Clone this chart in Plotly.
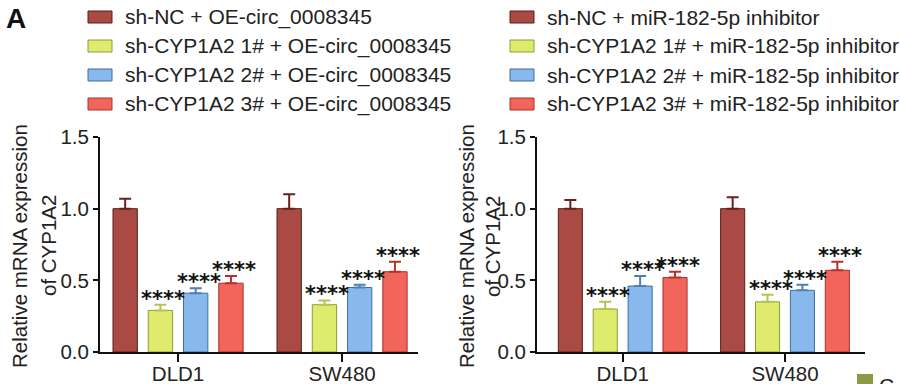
import plotly.graph_objects as go

# ---- data ----
cells = ["DLD1", "SW480"]
groups_left = ["sh-NC + OE-circ_0008345", "sh-CYP1A2 1# + OE-circ_0008345",
               "sh-CYP1A2 2# + OE-circ_0008345", "sh-CYP1A2 3# + OE-circ_0008345"]
groups_right = ["sh-NC + miR-182-5p inhibitor", "sh-CYP1A2 1# + miR-182-5p inhibitor",
                "sh-CYP1A2 2# + miR-182-5p inhibitor", "sh-CYP1A2 3# + miR-182-5p inhibitor"]
left_means = [[1.00, 1.00], [0.29, 0.33], [0.41, 0.45], [0.48, 0.56]]
left_errs = [[0.07, 0.10], [0.04, 0.03], [0.035, 0.02], [0.05, 0.07]]
right_means = [[1.00, 1.00], [0.30, 0.35], [0.46, 0.43], [0.52, 0.57]]
right_errs = [[0.06, 0.08], [0.05, 0.05], [0.07, 0.04], [0.04, 0.06]]
sig_left = [["", ""], ["****", "****"], ["****", "****"], ["****", "****"]]
sig_right = [["", ""], ["****", "****"], ["****", "****"], ["****", "****"]]
y_ticks = [0.0, 0.5, 1.0, 1.5]
y_title = ["Relative mRNA expression", "of CYP1A2"]

colors = ["#A94A44", "#DFEB6C", "#88B8EC", "#F2655B"]
edge = ["#5a1d1a", "#8f9a3a", "#3f6f9f", "#a8302a"]
errc = ["#6b201c", "#b7c250", "#4f7fb5", "#b8302a"]

W, H = 900, 384
def px(x): return x / W
def py(y): return 1 - y / H

BARGAP = 0.14
FONT = "Liberation Sans, Arial, sans-serif"

fig = go.Figure()
panels = [
    dict(xa="x", ya="y", means=left_means, errs=left_errs, sig=sig_left, names=groups_left),
    dict(xa="x2", ya="y2", means=right_means, errs=right_errs, sig=sig_right, names=groups_right),
]
xpos = [0, 1]
for p in panels:
    for i in range(4):
        fig.add_trace(go.Bar(
            x=xpos, y=p["means"][i], name=p["names"][i],
            xaxis=p["xa"], yaxis=p["ya"],
            marker=dict(color=colors[i], line=dict(color=edge[i], width=1)),
            error_y=dict(type="data", array=p["errs"][i], arrayminus=[0, 0],
                         symmetric=False, color=errc[i], thickness=2, width=6),
            showlegend=False, offsetgroup=str(i),
        ))
    slot = (1 - BARGAP) / 4
    for i in range(4):
        for j in range(2):
            if p["sig"][i][j]:
                fig.add_annotation(
                    x=xpos[j] + (i - 1.5) * slot, y=p["means"][i][j] + p["errs"][i][j],
                    xref=p["xa"], yref=p["ya"], text="<b>" + p["sig"][i][j] + "</b>",
                    showarrow=False, xanchor="center", yanchor="bottom", xshift=3, yshift=-8,
                    font=dict(family="DejaVu Sans", size=21, color="#111"))

axis_common = dict(showline=True, linecolor="#111", linewidth=2, ticks="outside",
                   tickcolor="#111", tickwidth=2, showgrid=False, zeroline=False,
                   automargin=False,
                   tickfont=dict(family=FONT, size=20.5, color="#222"))
yb, yt = py(352), py(137)
fig.update_layout(
    width=W, height=H, margin=dict(l=0, r=0, t=0, b=0, autoexpand=False),
    paper_bgcolor="white", plot_bgcolor="white",
    barmode="group", bargap=BARGAP, bargroupgap=0.31,
    xaxis=dict(domain=[px(100), px(418)], range=[-0.476, 1.463], tickvals=xpos,
               ticktext=cells, ticklen=8, ticklabelstandoff=-6, anchor="y", **axis_common),
    yaxis=dict(domain=[yb, yt], range=[0, 1.5], tickvals=y_ticks, tickformat=".1f",
               ticklen=5, anchor="x", **axis_common),
    xaxis2=dict(domain=[px(537), px(865)], range=[-0.528, 1.493], tickvals=xpos,
                ticktext=cells, ticklen=8, ticklabelstandoff=-6, anchor="y2", **axis_common),
    yaxis2=dict(domain=[yb, yt], range=[0, 1.5], tickvals=y_ticks, tickformat=".1f",
                ticklen=5, anchor="x2", **axis_common),
)

# y-axis titles (two lines each)
for xc in [(19, 48), (466, 492)]:
    for k, line in enumerate(y_title):
        fig.add_annotation(x=px(xc[k]), y=py(246), xref="paper", yref="paper",
                           text=line, textangle=-90, showarrow=False,
                           xanchor="center", yanchor="middle",
                           font=dict(family=FONT, size=20.5, color="#222"))

# manual legends
rows = [17, 46, 75, 104]
for (sx0, sx1, tx), names in [((88, 112, 123), groups_left), ((510, 534, 545), groups_right)]:
    for i, name in enumerate(names):
        fig.add_shape(type="rect", xref="paper", yref="paper",
                      x0=px(sx0), x1=px(sx1), y0=py(rows[i] + 6), y1=py(rows[i] - 6),
                      fillcolor=colors[i], line=dict(color=edge[i], width=1))
        fig.add_annotation(x=px(tx), y=py(rows[i]), xref="paper", yref="paper",
                           text=name, showarrow=False, xanchor="left", yanchor="middle",
                           font=dict(family=FONT, size=21, color="#222"))

# panel label
fig.add_annotation(x=px(4), y=py(19), xref="paper", yref="paper", text="<b>A</b>",
                   showarrow=False, xanchor="left", yanchor="middle",
                   font=dict(family=FONT, size=28, color="#111"))

# cropped neighbouring legend fragment at bottom-right
fig.add_shape(type="rect", xref="paper", yref="paper", x0=px(857), x1=px(873),
              y0=py(386), y1=py(374), fillcolor="#8c9a45", line=dict(width=0))
fig.add_annotation(x=px(877), y=py(372), xref="paper", yref="paper", text="C",
                   showarrow=False, xanchor="left", yanchor="top",
                   font=dict(family=FONT, size=21, color="#222"))

fig.write_html("out.html", config={"displayModeBar": False},
               post_script="document.body.style.margin='0';")
